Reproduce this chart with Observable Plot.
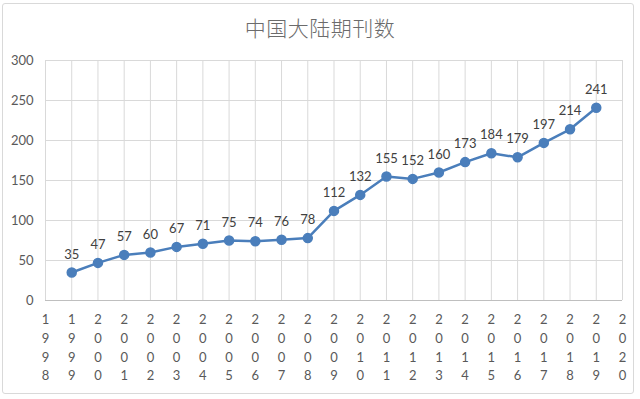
<!DOCTYPE html>
<html>
<head>
<meta charset="utf-8">
<script src="https://cdn.jsdelivr.net/npm/d3@7"></script>
<script src="https://cdn.jsdelivr.net/npm/@observablehq/plot@0.6"></script>
<style>
  html, body { margin: 0; padding: 0; background: #fff; }
  #wrap { position: relative; width: 640px; height: 399px; overflow: hidden; }
  #frame { position: absolute; left: 2px; top: 3px; width: 632px; height: 391px; border: 1px solid #d9d9d9; border-radius: 3px; box-sizing: border-box; }
  #title { position: absolute; left: 0; top: 12px; width: 640px; text-align: center; font-family: "Noto Sans CJK SC", sans-serif; font-weight: 300; font-size: 21px; color: #6b6b6b; letter-spacing: 0.5px; }
  #chart { position: absolute; left: 0; top: 0; }
</style>
</head>
<body>
<div id="wrap">
  <div id="frame"></div>
  <div id="chart"></div>
  <div id="title">中国大陆期刊数</div>
</div>
<script>
const title = "中国大陆期刊数";
const axisYears = [1998,1999,2000,2001,2002,2003,2004,2005,2006,2007,2008,2009,2010,2011,2012,2013,2014,2015,2016,2017,2018,2019,2020];
const years = [1999,2000,2001,2002,2003,2004,2005,2006,2007,2008,2009,2010,2011,2012,2013,2014,2015,2016,2017,2018,2019];
const counts = [35,47,57,60,67,71,75,74,76,78,112,132,155,152,160,173,184,179,197,214,241];
const yTicks = [0,50,100,150,200,250,300];

const data = years.map((y, i) => ({year: y, value: counts[i]}));
const font = "Lato, 'Open Sans', sans-serif";

const chart = Plot.plot({
  width: 640,
  height: 399,
  marginLeft: 45,
  marginRight: 18,
  marginTop: 60,
  marginBottom: 99,
  style: {fontFamily: font, fontSize: "13px", color: "#595959", background: "transparent"},
  x: {type: "linear", domain: [1998, 2020], axis: null},
  y: {domain: [0, 300], axis: null},
  marks: [
    Plot.gridX(axisYears, {stroke: "#d9d9d9", strokeOpacity: 1}),
    Plot.gridY(yTicks, {stroke: "#d9d9d9", strokeOpacity: 1}),
    Plot.ruleY([0], {stroke: "#bfbfbf"}),
    Plot.axisY({ticks: yTicks, tickSize: 0, tickPadding: 12, fill: "#595959", fontSize: 13, label: null}),
    Plot.axisX({ticks: axisYears, tickSize: 0, tickPadding: 10, tickFormat: d => String(d).split("").join("\n"), lineHeight: 1.45, fill: "#595959", fontSize: 13, label: null}),
    Plot.line(data, {x: "year", y: "value", stroke: "#4a7ebb", strokeWidth: 2.5}),
    Plot.dot(data, {x: "year", y: "value", r: 4.5, fill: "#4a7ebb", stroke: "#4a7ebb"}),
    Plot.text(data, {x: "year", y: "value", text: d => String(d.value), dy: -18, fill: "#404040", fontSize: 13})
  ]
});
document.getElementById("chart").appendChild(chart);
</script>
</body>
</html>
